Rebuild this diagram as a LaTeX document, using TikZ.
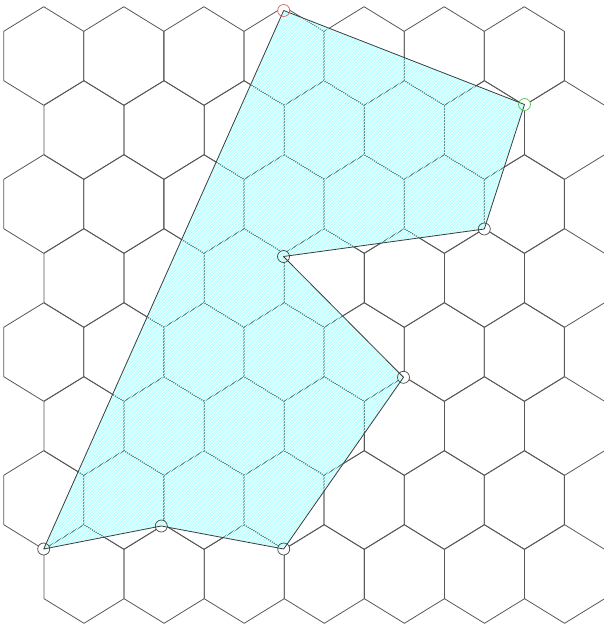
\documentclass[tikz,border=0pt]{standalone}
\usetikzlibrary{patterns}
\definecolor{hexgray}{RGB}{88,88,88}
\definecolor{polyedge}{RGB}{60,60,60}
\definecolor{redpt}{RGB}{232,90,90}
\definecolor{greenpt}{RGB}{90,190,90}
\definecolor{graypt}{RGB}{70,70,70}
\definecolor{aqua}{RGB}{0,255,255}
\tikzset{
  hexline/.style={draw=hexgray, line width=0.8pt, line join=round},
  polyfill/.style={fill=aqua, fill opacity=0.28},
  polyhatch/.style={pattern=north east lines, pattern color=white, fill opacity=0.3},
  polyline/.style={draw=polyedge, line width=0.8pt, line join=round},
  ptmark/.style={circle, inner sep=0pt, minimum size=12pt, line width=0.7pt, fill=white},
}
\begin{document}
\begin{tikzpicture}[x=1pt,y=-1pt]
\useasboundingbox (0,0) rectangle (604,627);
% hexagonal grid
\foreach \r in {0,...,7}{
  \foreach \i in {0,...,6}{
    \pgfmathsetmacro\cx{43.7+80.1*\i+40.3*mod(\r,2)}
    \pgfmathsetmacro\cy{56+74*\r}
    \draw[hexline] (\cx,\cy-49.3) -- (\cx+40.05,\cy-24.65) -- (\cx+40.05,\cy+24.65)
      -- (\cx,\cy+49.3) -- (\cx-40.05,\cy+24.65) -- (\cx-40.05,\cy-24.65) -- cycle;
  }
}
% polygon vertices
\coordinate (p1) at (283.7,10.5);
\coordinate (p2) at (524.5,104.5);
\coordinate (p3) at (484.3,229);
\coordinate (p4) at (283.5,256.5);
\coordinate (p5) at (403.5,377.3);
\coordinate (p6) at (283.7,549);
\coordinate (p7) at (161.3,526);
\coordinate (p8) at (43.7,549);
% white discs under the fill
\foreach \p in {p1,p2,p3,p4,p5,p6,p7,p8}{
  \fill[white] (\p) circle (6pt);
}
% polygon
\fill[polyfill] (p1) -- (p2) -- (p3) -- (p4) -- (p5) -- (p6) -- (p7) -- (p8) -- cycle;
\fill[polyhatch] (p1) -- (p2) -- (p3) -- (p4) -- (p5) -- (p6) -- (p7) -- (p8) -- cycle;
\draw[polyline] (p1) -- (p2) -- (p3) -- (p4) -- (p5) -- (p6) -- (p7) -- (p8) -- cycle;
% markers
\node[ptmark, draw=redpt, fill opacity=0] (m1) at (p1) {};
\node[ptmark, draw=greenpt, fill opacity=0] (m2) at (p2) {};
\node[ptmark, draw=graypt, fill opacity=0] (m3) at (p3) {};
\node[ptmark, draw=graypt, fill opacity=0] (m4) at (p4) {};
\node[ptmark, draw=graypt, fill opacity=0] (m5) at (p5) {};
\node[ptmark, draw=graypt, fill opacity=0] (m6) at (p6) {};
\node[ptmark, draw=graypt, fill opacity=0] (m7) at (p7) {};
\node[ptmark, draw=graypt, fill opacity=0] (m8) at (p8) {};
\end{tikzpicture}
\end{document}
